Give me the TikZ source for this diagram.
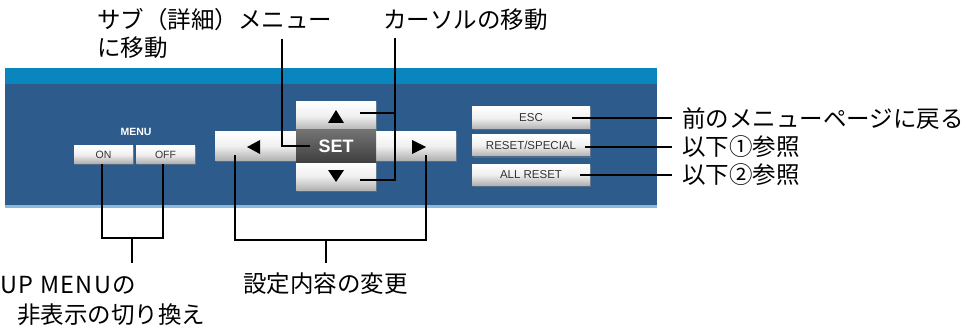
\documentclass[tikz,border=0pt]{standalone}
\usepackage{fontspec}
\setmainfont{Liberation Sans}
\newfontfamily\jp{Noto Sans CJK JP}
\usetikzlibrary{shadows}
\definecolor{band}{HTML}{0A86BF}
\definecolor{panel}{HTML}{2D5B8B}
\definecolor{edge}{HTML}{8CB8DC}
\definecolor{btxt}{HTML}{333333}
\begin{document}
\begin{tikzpicture}[x=1pt,y=-1pt,
  btn/.style={draw=none, top color=white, bottom color=black!30, middle color=black!6, inner sep=0pt,
    drop shadow={shadow xshift=0.8pt, shadow yshift=-1.5pt, opacity=0.45}},
  btxtf/.style={font=\fontsize{11.5}{11.5}\selectfont, text=btxt},
  setbtn/.style={draw=none, top color=black!55, bottom color=black!75, inner sep=0pt,
    text=white, font=\bfseries\fontsize{18}{18}\selectfont},
  lead/.style={line width=1.2pt, black},
  leadp/.style={lead, preaction={draw=white, line width=2.8pt}},
  jl/.style={font=\jp\fontsize{23.5}{28}\selectfont, inner sep=0pt, anchor=west}]
\useasboundingbox (0,0) rectangle (969,326);
% panel
\fill[band] (5,68) rectangle (657,84);
\fill[panel] (5,84) rectangle (657,205);
\fill[edge] (5,205) rectangle (657,208);
% MENU buttons
\node[text=white, font=\bfseries\fontsize{10.5}{10.5}\selectfont, inner sep=0pt] (menu) at (136,132) {MENU};
\node[btn, btxtf, minimum width=59pt, minimum height=17pt, font=\fontsize{10.5}{10.5}\selectfont] (on) at (103.5,154.5) {ON};
\node[btn, btxtf, minimum width=59pt, minimum height=17pt, font=\fontsize{10.5}{10.5}\selectfont] (off) at (165.5,154.5) {OFF};
% cross buttons
\node[btn, minimum width=84pt, minimum height=28pt] (lt) at (257,146) {};
\node[btn, minimum width=82pt, minimum height=28pt] (rt) at (415,146) {};
\node[btn, minimum width=80pt, minimum height=28pt] (up) at (336,116) {};
\node[btn, minimum width=80pt, minimum height=28pt] (dn) at (336,176) {};
\node[setbtn, minimum width=80pt, minimum height=32pt] (set) at (336,146) {SET};
\fill[black] (328,123) -- (344,123) -- (336,110) -- cycle;
\fill[black] (328,170) -- (344,170) -- (336,182) -- cycle;
\fill[black] (260,140) -- (260,154) -- (247,147) -- cycle;
\fill[black] (412,140) -- (412,154) -- (426,147) -- cycle;
% right buttons
\node[btn, btxtf, minimum width=118pt, minimum height=22pt] (esc) at (531,118) {ESC};
\node[btn, btxtf, minimum width=118pt, minimum height=21pt] (rst) at (531,145.5) {RESET/SPECIAL};
\node[btn, btxtf, minimum width=118pt, minimum height=21pt] (all) at (531,174.5) {ALL RESET};
% labels
\node[jl] (lsub) at (97,20) {サブ（詳細）メニュー};
\node[jl] (lsub2) at (97,48) {に移動};
\node[jl] (lcur) at (383,20) {カーソルの移動};
\node[jl] (lesc) at (682,119) {前のメニューページに戻る};
\node[jl] (lrst) at (682,147) {以下①参照};
\node[jl] (lall) at (682,175) {以下②参照};
\node[jl] (lmenu) at (0,285) {\addfontfeature{LetterSpace=6}UP MENUの};
\node[jl] (lmenu2) at (17,315) {非表示の切り換え};
\node[jl] (lchg) at (243,284) {設定内容の変更};
% coordinates
\coordinate (cSubTop) at (282,39);
\coordinate (cSubEnd) at (310,146);
\coordinate (cCurTop) at (395,38);
\coordinate (cCurBot) at (395,180);
\coordinate (cUpEnd) at (360,113);
\coordinate (cDnEnd) at (360,180);
\coordinate (cEscS) at (572,118);
\coordinate (cRstS) at (585,147);
\coordinate (cAllS) at (580,175);
\coordinate (cEscE) at (672,118);
\coordinate (cRstE) at (672,147);
\coordinate (cAllE) at (672,175);
\coordinate (cOn) at (102,164);
\coordinate (cOff) at (163,164);
\coordinate (jOO) at (132,238);
\coordinate (sOO) at (132,263);
\coordinate (cLt) at (235,155);
\coordinate (cRt) at (426,155);
\coordinate (jLR) at (326,240);
\coordinate (sLR) at (326,263);
% leaders
\draw[leadp] (cSubTop) |- (cSubEnd);
\draw[leadp] (cCurTop) -- (cCurBot) -- (cDnEnd);
\draw[leadp] (cUpEnd) -- (cUpEnd -| cCurTop);
\draw[leadp] (cEscS) -- (cEscE);
\draw[leadp] (cRstS) -- (cRstE);
\draw[leadp] (cAllS) -- (cAllE);
\draw[lead] (cOn) |- (jOO) -| (cOff);
\draw[lead] (jOO) -- (sOO);
\draw[lead] (cLt) |- (jLR) -| (cRt);
\draw[lead] (jLR) -- (sLR);
\end{tikzpicture}
\end{document}
